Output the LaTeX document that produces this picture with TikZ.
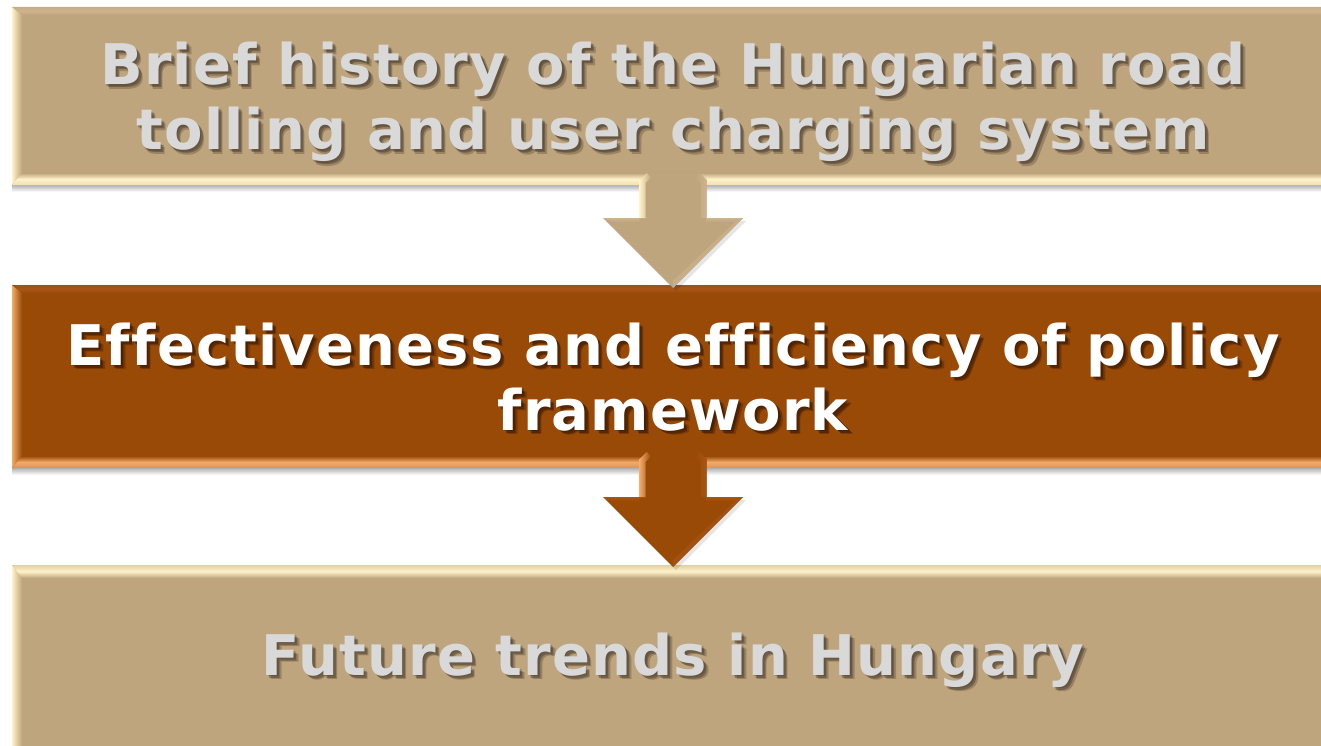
\documentclass[tikz,border=0pt]{standalone}
\usepackage{fontspec}
\setmainfont{DejaVu Sans}[LetterSpace=2.1, Ligatures=NoCommon]
\usetikzlibrary{calc,fadings}

\definecolor{panelTan}{HTML}{BFA57D}
\definecolor{panelBrown}{HTML}{9A4A07}
\definecolor{tanCream}{HTML}{FFF2C8}
\definecolor{tanEdge}{HTML}{CDB48C}
\definecolor{brownPeach}{HTML}{F2AA6A}
\definecolor{brownEdge}{HTML}{A85616}
\definecolor{labelGray}{HTML}{D9D9D9}
\definecolor{tanShade}{HTML}{44372A}
\definecolor{brownShade}{HTML}{2E1200}

% caption texts and the block they are set in
\newcommand\historylines{Brief history of the Hungarian road\\tolling and user charging system}
\newcommand\policylines{Effectiveness and efficiency of policy\\framework}
\newcommand\futurelines{Future trends in Hungary}
\newcommand\capblock[2]{{\color{#1}\normalfont\fontsize{56}{65}\selectfont\bfseries
  \raisebox{\depth}{\begin{tabular}{@{}c@{}}#2\end{tabular}}}}

% masks in the shape of the captions, used for their soft drop shadows
\pgfdeclarefading{historyfade}{\capblock{white}{\historylines}}
\pgfdeclarefading{policyfade}{\capblock{white}{\policylines}}
\pgfdeclarefading{futurefade}{\capblock{white}{\futurelines}}

% bevelled frame around a panel node:
% #1 node, #2 base, #3 bottom/left highlight, #4 top highlight, #5 top bevel depth
\newcommand\panelbevel[5]{%
  \shade[top color=black!30, bottom color=white]
    (#1.south west) rectangle ($(#1.south east)+(0,7)$);
  \shade[left color=#3, right color=#2]
    (#1.north west) -- ($(#1.north west)+(10,#5)$) -- ($(#1.south west)+(10,-12)$)
    -- (#1.south west) -- cycle;
  \shade[top color=#4!55!#2, bottom color=#2, middle color=#4]
    (#1.north west) -- (#1.north east) -- ($(#1.north east)+(-10,#5)$)
    -- ($(#1.north west)+(10,#5)$) -- cycle;
  \shade[top color=#2, bottom color=#3!75!#2, middle color=#3]
    (#1.south west) -- ($(#1.south west)+(10,-12)$) -- ($(#1.south east)+(-10,-12)$)
    -- (#1.south east) -- cycle;
}

% soft shadow of a caption: #1 mask, #2 colour, #3 caption centre, #4 panel node
\newcommand\capshadow[4]{%
  \foreach \d/\o in {1.5/0.3, 3/0.45, 4.5/0.3} {
    \fill[#2, opacity=\o, path fading=#1, fit fading=false,
      fading transform={shift={#3}, shift={(\d,\d)}}]
      (#4.north west) rectangle (#4.south east);
  }
}

% down-pointing block arrow, drawn in a scope shifted to the top of its shaft
\newcommand\blockdown[4]{% #1 anchor point, #2 base, #3 left light, #4 right light
  \begin{scope}[shift={#1}]
    \fill[black, opacity=0.10]
      (-67,48) -- (73,48) -- (3,118) -- cycle;
    \fill[#2] (-33.5,7) -- (-26.5,0) -- (26.5,0) -- (33.5,7) -- (33.5,45)
      -- (70,45) -- (0,115) -- (-70,45) -- (-33.5,45) -- cycle;
    \shade[left color=#3, right color=#2]
      (-33.5,7) -- (-26.5,0) -- (-22,4) -- (-27.5,10) -- (-27.5,45) -- (-33.5,45) -- cycle;
    \shade[left color=#2, right color=#4]
      (33.5,7) -- (26.5,0) -- (22,4) -- (27.5,10) -- (27.5,45) -- (33.5,45) -- cycle;
    \shade[top color=#4, bottom color=#2]
      (-70,45) -- (-33.5,45) -- (-33.5,49) -- (-62,49) -- cycle;
    \shade[top color=#4, bottom color=#2]
      (70,45) -- (33.5,45) -- (33.5,49) -- (62,49) -- cycle;
    \fill[#4, opacity=0.6] (70,45) -- (0,115) -- (0,108) -- (62,49) -- cycle;
  \end{scope}
}

\tikzset{
  panel/.style={rectangle, inner sep=0pt, outer sep=0pt, minimum width=1322},
  caption/.style={inner sep=0pt, outer sep=0pt},
}

\begin{document}
\begin{tikzpicture}[x=1pt, y=-1pt]
  \useasboundingbox (0,0) rectangle (1321,746);
  \clip (0,0) rectangle (1321,746);

  % the three panels
  \node[panel, fill=panelTan, minimum height=178] (history) at (673,96) {};
  \node[panel, fill=panelBrown, minimum height=183] (policy) at (673,376.5) {};
  \node[panel, fill=panelTan, minimum height=200] (future) at (673,665) {};

  \panelbevel{history}{panelTan}{tanCream}{tanEdge}{8}
  \panelbevel{policy}{panelBrown}{brownPeach}{brownEdge}{8}
  \panelbevel{future}{panelTan}{tanCream}{tanCream}{13}

  % arrows between the panels
  \blockdown{($(history.south)+(0,-12)$)}{panelTan}{tanCream}{tanEdge}
  \blockdown{($(policy.south)+(0,-16)$)}{panelBrown}{brownPeach}{brownEdge}

  % caption shadows
  \capshadow{historyfade}{tanShade}{($(history.center)+(0,8.5)$)}{history}
  \capshadow{policyfade}{brownShade}{($(policy.center)+(0,8)$)}{policy}
  \capshadow{futurefade}{tanShade}{($(future.center)+(0,-3)$)}{future}

  % captions
  \node[caption] (historytext) at ($(history.center)+(0,8.5)$)
    {\capblock{labelGray}{\historylines}};
  \node[caption] (policytext) at ($(policy.center)+(0,8)$)
    {\capblock{white}{\policylines}};
  \node[caption] (futuretext) at ($(future.center)+(0,-3)$)
    {\capblock{labelGray}{\futurelines}};
\end{tikzpicture}
\end{document}
